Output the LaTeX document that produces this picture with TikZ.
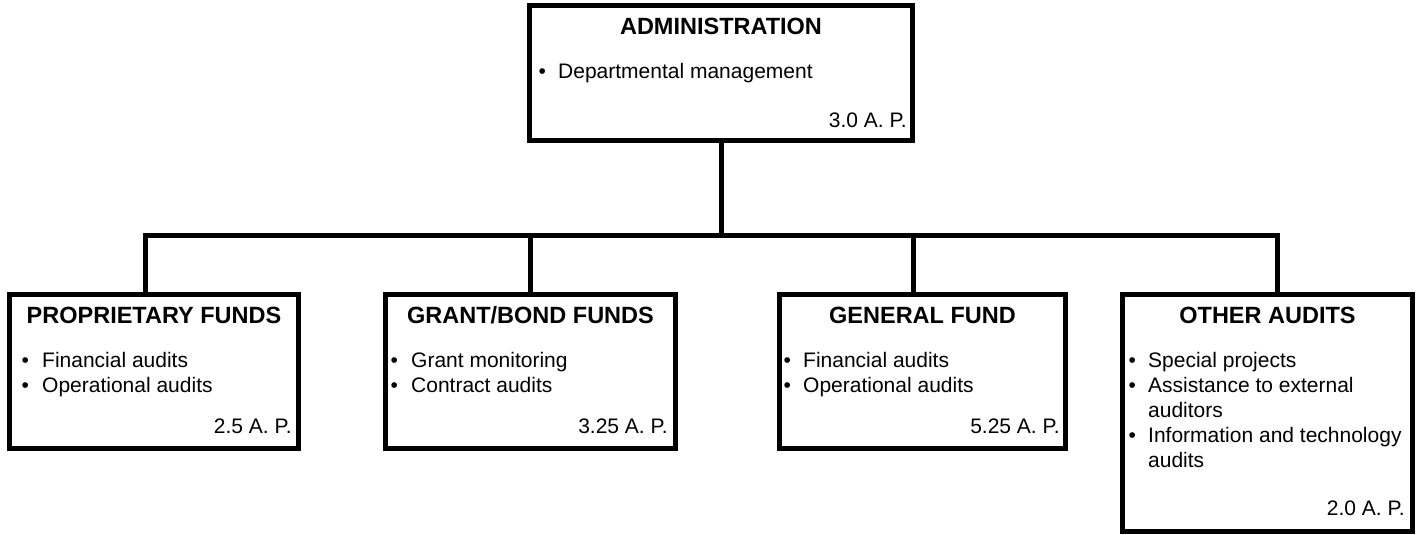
\documentclass[tikz,border=0pt]{standalone}
\usepackage{fontspec}
\setmainfont{Liberation Sans}
\begin{document}
\begin{tikzpicture}[x=1pt,y=-1pt,
  box/.style={draw=black,line width=5pt,rectangle,inner sep=0pt,fill=white},
  conn/.style={draw=black,line width=5pt,line join=miter},
  ttl/.style={anchor=base,inner sep=0pt,font=\fontsize{23.5}{28}\selectfont\bfseries},
  itm/.style={anchor=base west,inner sep=0pt,font=\fontsize{21}{25}\selectfont},
  ap/.style={anchor=base east,inner sep=0pt,font=\fontsize{21}{25}\selectfont}]
\useasboundingbox (0,0) rectangle (1424,535);
\newcommand{\bul}[1]{\makebox[#1pt][l]{•}}
% boxes
\node[box,minimum width=383pt,minimum height=135pt] (top) at (721,73) {};
\node[box,minimum width=289pt,minimum height=154pt] (b1) at (154,371.5) {};
\node[box,minimum width=290pt,minimum height=154pt] (b2) at (530.5,371.5) {};
\node[box,minimum width=286pt,minimum height=154pt] (b3) at (922.5,371.5) {};
\node[box,minimum width=290pt,minimum height=237pt] (b4) at (1267.5,413) {};
% connectors
\coordinate (j1) at (145,235.5);
\coordinate (j2) at (530,235.5);
\coordinate (j3) at (913,235.5);
\coordinate (j4) at (1277,235.5);
\path[conn] (j1 |- b1.north) -- (j1) -- (j4) -- (j4 |- b4.north);
\path[conn] (top.south) -- (top.south |- j1);
\path[conn] (j2) -- (j2 |- b2.north);
\path[conn] (j3) -- (j3 |- b3.north);
% top box text
\node[ttl] (t0) at (721,35) {ADMINISTRATION};
\node[itm] (t0a) at (538.5,78) {\bul{19.5}Departmental management};
\node[ap] (t0p) at (907,127) {3.0 A. P.};
% box 1
\node[ttl] (t1) at (154,323) {PROPRIETARY FUNDS};
\node[itm] (t1a) at (21.5,367) {\bul{20.5}Financial audits};
\node[itm] (t1b) at (21.5,392) {\bul{20.5}Operational audits};
\node[ap] (t1p) at (292,433) {2.5 A. P.};
% box 2
\node[ttl] (t2) at (530.5,323) {GRANT/BOND FUNDS};
\node[itm] (t2a) at (390.5,367) {\bul{20.5}Grant monitoring};
\node[itm] (t2b) at (390.5,392) {\bul{20.5}Contract audits};
\node[ap] (t2p) at (668,433) {3.25 A. P.};
% box 3
\node[ttl] (t3) at (922.5,323) {GENERAL FUND};
\node[itm] (t3a) at (783.5,367) {\bul{19.5}Financial audits};
\node[itm] (t3b) at (783.5,392) {\bul{19.5}Operational audits};
\node[ap] (t3p) at (1060,433) {5.25 A. P.};
% box 4
\node[ttl] (t4) at (1267.5,323) {OTHER AUDITS};
\node[itm] (t4a) at (1128.5,367) {\bul{19.5}Special projects};
\node[itm] (t4b) at (1128.5,392) {\bul{19.5}Assistance to external};
\node[itm] (t4c) at (1148,417) {auditors};
\node[itm] (t4d) at (1128.5,442) {\bul{19.5}Information and technology};
\node[itm] (t4e) at (1148,467) {audits};
\node[ap] (t4p) at (1405,515) {2.0 A. P.};
\end{tikzpicture}
\end{document}
